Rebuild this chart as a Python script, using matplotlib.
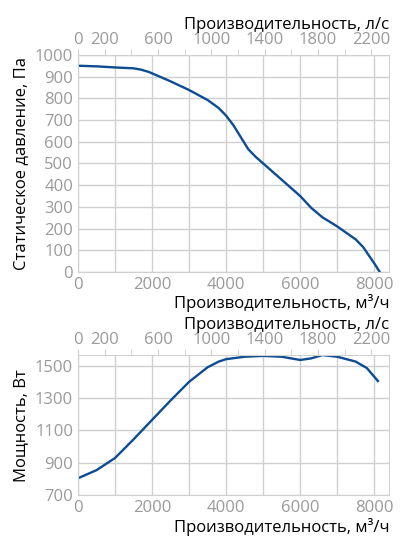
import matplotlib
matplotlib.use('Agg')
import matplotlib.pyplot as plt
import numpy as np

plt.rcParams['font.family'] = ['Open Sans', 'DejaVu Sans']

# pressure curve, m3/h vs Pa
q_p = [0, 500, 1000, 1500, 1700, 1900, 2000, 2500, 3000, 3500, 3800, 4000, 4200, 4400, 4600, 4800, 5000, 5500, 6000, 6300, 6600, 7000, 7500, 7700, 7900, 8000, 8150]
p = [950, 947, 942, 938, 932, 922, 915, 878, 838, 792, 755, 720, 675, 620, 565, 530, 500, 425, 350, 295, 252, 210, 150, 115, 65, 40, 0]
# power curve, m3/h vs W
q_w = [0, 500, 1000, 1500, 2000, 2500, 3000, 3500, 3800, 4000, 4500, 5000, 5500, 6000, 6300, 6600, 7000, 7500, 7800, 8100]
w = [805, 855, 930, 1045, 1165, 1285, 1400, 1490, 1525, 1540, 1555, 1560, 1555, 1535, 1545, 1565, 1555, 1525, 1485, 1405]

top_ticks = [0, 200, 600, 1000, 1400, 1800, 2200]
line_col = '#0d4c92'
tick_col = '#9a9a9a'
grid_col = '#d0d0d0'

fig = plt.figure(figsize=(4.17, 5.54), dpi=100)

def style(ax, ylim, yticks, ylabel):
    ax.set_xlim(0, 8400)
    ax.set_ylim(*ylim)
    ax.set_xticks([0, 2000, 4000, 6000, 8000])
    ax.set_xticks(np.arange(0, 8401, 1000), minor=True)
    ax.set_yticks(yticks)
    ax.grid(True, which='both', color=grid_col, lw=1)
    for s in ax.spines.values():
        s.set_color(grid_col)
    ax.tick_params(colors=tick_col, labelsize=12, length=0, which='both')
    ax.set_xlabel('Производительность, м³/ч', fontsize=12, loc='right', labelpad=1)
    ax.set_ylabel(ylabel, fontsize=12)
    sec = ax.secondary_xaxis('top', functions=(lambda x: x / 3.6, lambda x: x * 3.6))
    sec.set_xticks(top_ticks)
    sec.set_xticks(np.arange(0, 2301, 200), minor=True)
    sec.tick_params(colors=tick_col, labelsize=12, length=4, which='both', color=grid_col, pad=1)
    sec.spines['top'].set_visible(False)
    sec.set_xlabel('Производительность, л/с', fontsize=12, loc='right', labelpad=2)

ax1 = fig.add_axes([0.187, 0.509, 0.746, 0.392])
ax1.plot(q_p, p, color=line_col, lw=1.7)
style(ax1, (0, 1000), np.arange(0, 1001, 100), 'Статическое давление, Па')

ax2 = fig.add_axes([0.187, 0.106, 0.746, 0.253])
ax2.plot(q_w, w, color=line_col, lw=1.7)
style(ax2, (700, 1565), [700, 900, 1100, 1300, 1500], 'Мощность, Вт')

fig.savefig('out.png', dpi=100)
